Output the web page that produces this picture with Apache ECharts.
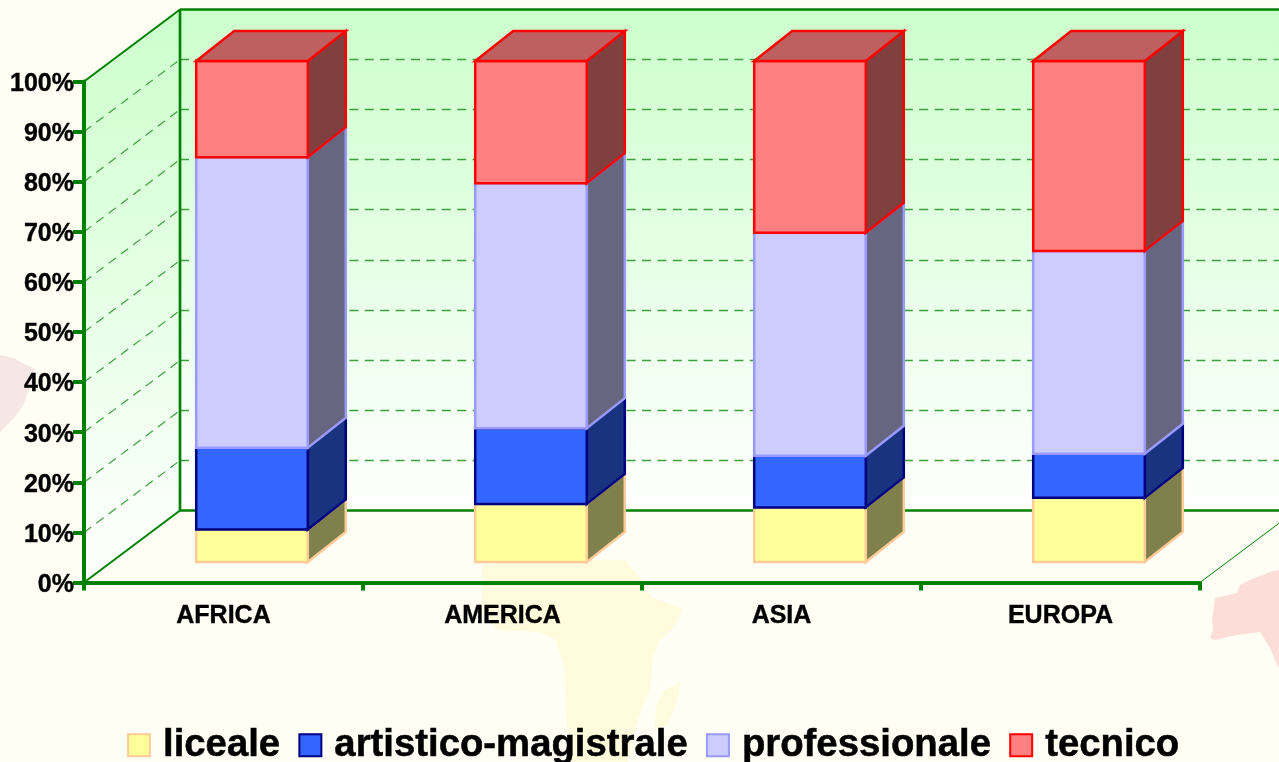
<!DOCTYPE html>
<html>
<head>
<meta charset="utf-8">
<style>html,body{margin:0;padding:0;background:#FFFFF5;overflow:hidden}#c{width:1279px;height:762px}</style>
<script src="https://cdn.jsdelivr.net/npm/echarts@6/dist/echarts.min.js"></script>
</head>
<body>
<div id="c"></div>
<script>
const categories = ['AFRICA', 'AMERICA', 'ASIA', 'EUROPA'];
const liceale = [6.5, 11.6, 10.9, 12.8];
const artistico = [16.3, 15.1, 10.3, 8.8];
const professionale = [58.0, 48.9, 44.5, 40.5];
const tecnico = [19.2, 24.4, 34.3, 37.9];
const gridValues = [10, 20, 30, 40, 50, 60, 70, 80, 90];

const GREEN = '#008000';
const DASH = '#3FA03F';
const FONT = '"Liberation Sans", Arial, sans-serif';
const WALL = {dx: 96, dy: -72};
const BAR = {dx: 28.5, dy: -20.5, depthX: 38, depthY: -30, ratio: 0.4};

const chart = echarts.init(document.getElementById('c'), null, {renderer: 'canvas'});

function pts(a) { return {points: a}; }

function wallsItem(params, api) {
  const cs = params.coordSys;
  const x0 = cs.x, x1 = cs.x + cs.width;
  const yT = cs.y, yB = cs.y + cs.height;
  const grad = new echarts.graphic.LinearGradient(0, 0, 0, 1, [
    {offset: 0, color: '#CCFFCC'}, {offset: 1, color: '#FFFFFF'}
  ]);
  const bx0 = x0 + WALL.dx, bx1 = x1 + WALL.dx;
  const byT = yT + WALL.dy, byB = yB + WALL.dy;
  const line = (a, b, c, d, w, extra) => ({
    type: 'line', silent: true,
    shape: {x1: a, y1: b, x2: c, y2: d},
    style: Object.assign({stroke: GREEN, lineWidth: w}, extra || {})
  });
  const children = [
    {type: 'polygon', silent: true, shape: pts([[bx0, byT], [bx1, byT], [bx1, byB], [bx0, byB]]), style: {fill: grad}},
    {type: 'polygon', silent: true, shape: pts([[x0, yT], [bx0, byT], [bx0, byB], [x0, yB]]), style: {fill: grad}}
  ];
  gridValues.forEach(v => {
    const y = api.coord([0, v])[1];
    const back = Math.floor(y + WALL.dy) + 0.5;
    children.push(line(x0, y, bx0, back, 1.2, {stroke: DASH, lineDash: [9, 6.4]}));
    children.push(line(bx0, back, bx1, back, 1.4, {stroke: DASH, lineDash: [9, 6.4]}));
  });
  children.push(line(bx0, byT, bx1, byT, 2.5));
  children.push(line(bx0, byT, bx0, byB, 2.7));
  children.push(line(bx0, byB, bx1, byB, 2.5));
  children.push(line(x0, yT, bx0, byT, 2));
  children.push(line(x0, yB, bx0, byB, 2));
  children.push(line(x1, yB, bx1, byB, 1));
  return {type: 'group', children};
}

function barItem(fill, border, side, topFace) {
  return function (params, api) {
    const i = api.value(0);
    const lo = api.coord([i, api.value(1)]);
    const hi = api.coord([i, api.value(2)]);
    const w = api.size([1, 0])[0] * BAR.ratio;
    const l = lo[0] + BAR.dx - w / 2, r = l + w;
    const yb = lo[1] + BAR.dy, yt = hi[1] + BAR.dy;
    const dx = BAR.depthX, dy = BAR.depthY;
    const st = f => ({fill: f, stroke: border, lineWidth: 2.5, lineJoin: 'miter'});
    const children = [
      {type: 'polygon', shape: pts([[r, yb], [r + dx, yb + dy], [r + dx, yt + dy], [r, yt]]), style: st(side)},
      {type: 'polygon', shape: pts([[l, yb], [r, yb], [r, yt], [l, yt]]), style: st(fill)}
    ];
    if (topFace) {
      children.push({type: 'polygon', shape: pts([[l, yt], [r, yt], [r + dx, yt + dy], [l + dx, yt + dy]]), style: st(topFace)});
    }
    return {type: 'group', children};
  };
}

function stacked(values, below) {
  return values.map((v, i) => {
    const base = below.reduce((s, arr) => s + arr[i], 0);
    return [i, base, base + v];
  });
}

function barSeries(name, values, below, fill, border, side, topFace) {
  return {
    name, type: 'custom', coordinateSystem: 'cartesian2d', clip: false, z: 3,
    itemStyle: {color: fill, borderColor: border, borderWidth: 2},
    renderItem: barItem(fill, border, side, topFace),
    encode: {x: 0, y: [1, 2]},
    data: stacked(values, below)
  };
}

const deco = (points, fill) => ({type: 'polygon', z: -10, silent: true, shape: {points}, style: {fill}});

chart.setOption({
  animation: false,
  backgroundColor: '#FFFFF5',
  textStyle: {fontFamily: FONT},
  graphic: [
    deco([[0,355],[14,358],[24,364],[34,368],[35,382],[28,392],[24,404],[14,418],[0,432]], '#F6E7E4'),
    deco([[1279,570],[1270,572],[1250,580],[1240,585],[1237,593],[1215,598],[1212,620],[1213,630],[1210,638],[1215,640],[1237,635],[1260,632],[1270,648],[1278,667],[1279,667]], '#FCDDD8'),
    deco([[482,566],[520,560],[625,560],[640,578],[652,598],[683,608],[676,625],[660,640],[653,655],[650,690],[640,712],[632,740],[628,762],[572,762],[566,715],[565,670],[556,640],[540,632],[498,630],[482,610]], '#FFFBDC'),
    deco([[680,682],[678,700],[668,725],[655,730],[656,705],[665,690]], '#FFFBDF')
  ],
  grid: {left: 84, top: 81.5, width: 1116, height: 501},
  legend: {
    left: 127, top: 726, padding: 0, itemWidth: 22, itemHeight: 22, itemGap: 18,
    icon: 'rect',
    selectedMode: false,
    data: ['liceale', 'artistico-magistrale', 'professionale', 'tecnico'],
    textStyle: {fontFamily: FONT, fontWeight: 'bold', fontSize: 38.3, color: '#000', padding: [0, 0, 0, 8], textBorderColor: '#000', textBorderWidth: 0.5}
  },
  xAxis: {
    type: 'category', data: categories, z: 5,
    axisLine: {lineStyle: {color: GREEN, width: 4}},
    axisTick: {show: true, length: 8, lineStyle: {color: GREEN, width: 4}},
    axisLabel: {color: '#000', fontWeight: 'bold', fontSize: 25, margin: 21, textBorderColor: '#000', textBorderWidth: 0.4}
  },
  yAxis: {
    type: 'value', min: 0, max: 100, interval: 10, z: 5,
    axisLine: {show: true, lineStyle: {color: GREEN, width: 4}},
    axisTick: {show: true, length: 11, lineStyle: {color: GREEN, width: 4}},
    axisLabel: {
      margin: 10, formatter: '{t|{value}%}',
      rich: {t: {color: '#000', fontFamily: FONT, fontWeight: 'bold', fontSize: 25, padding: [5, 0, 0, 0], textBorderColor: '#000', textBorderWidth: 0.4}}
    },
    splitLine: {show: false}
  },
  series: [
    {name: 'walls', type: 'custom', coordinateSystem: 'cartesian2d', clip: false, silent: true, z: -5, renderItem: wallsItem, encode: {x: 0, y: 1}, data: [[0, 0]]},
    barSeries('liceale', liceale, [], '#FFFF99', '#FFCC99', '#80804D'),
    barSeries('artistico-magistrale', artistico, [liceale], '#3366FF', '#000080', '#1A3380'),
    barSeries('professionale', professionale, [liceale, artistico], '#CCCCFF', '#9999FF', '#666680'),
    barSeries('tecnico', tecnico, [liceale, artistico, professionale], '#FF8080', '#FF0000', '#804040', '#BF6060')
  ]
});
</script>
</body>
</html>
